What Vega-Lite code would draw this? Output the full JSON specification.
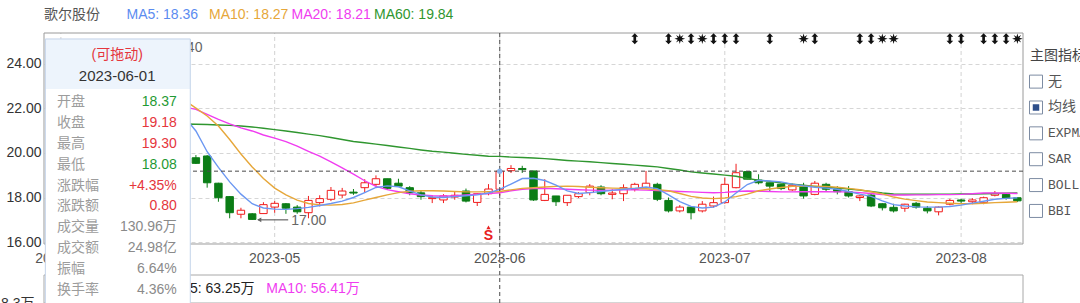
{
  "$schema": "https://vega.github.io/schema/vega-lite/v6.json",
  "padding": 0,
  "background": "white",
  "config": {"view": {"stroke": null}},
  "spacing": 2,
  "datasets": {
    "k": [
      {"d":"2023-03-31","o":22.0,"h":22.5,"l":21.8,"c":22.3,"ma5":21.8,"ma10":21.0,"ma20":20.6,"ma60":20.4},
      {"d":"2023-04-03","o":22.3,"h":23.1,"l":22.2,"c":22.9,"ma5":22.1,"ma10":21.2,"ma20":20.8,"ma60":20.5},
      {"d":"2023-04-04","o":22.9,"h":23.5,"l":22.7,"c":23.3,"ma5":22.4,"ma10":21.5,"ma20":21.0,"ma60":20.6},
      {"d":"2023-04-06","o":23.3,"h":23.6,"l":22.8,"c":23.0,"ma5":22.6,"ma10":21.8,"ma20":21.2,"ma60":20.7},
      {"d":"2023-04-07","o":23.0,"h":23.7,"l":22.9,"c":23.5,"ma5":22.8,"ma10":22.1,"ma20":21.4,"ma60":20.8},
      {"d":"2023-04-10","o":23.5,"h":24.1,"l":23.3,"c":23.8,"ma5":23.1,"ma10":22.4,"ma20":21.6,"ma60":20.9},
      {"d":"2023-04-11","o":23.8,"h":24.0,"l":23.2,"c":23.4,"ma5":23.3,"ma10":22.6,"ma20":21.8,"ma60":21.0},
      {"d":"2023-04-12","o":23.4,"h":24.4,"l":23.3,"c":24.0,"ma5":23.5,"ma10":22.8,"ma20":21.95,"ma60":21.1},
      {"d":"2023-04-13","o":24.0,"h":24.1,"l":22.9,"c":23.1,"ma5":23.6,"ma10":22.9,"ma20":22.05,"ma60":21.17},
      {"d":"2023-04-14","o":23.1,"h":23.2,"l":22.2,"c":22.4,"ma5":23.4,"ma10":22.9,"ma20":22.12,"ma60":21.22},
      {"d":"2023-04-17","o":22.4,"h":22.5,"l":21.4,"c":21.6,"ma5":23.0,"ma10":22.8,"ma20":22.15,"ma60":21.26},
      {"d":"2023-04-18","o":21.6,"h":21.7,"l":20.6,"c":20.8,"ma5":22.4,"ma10":22.6,"ma20":22.12,"ma60":21.28},
      {"d":"2023-04-19","o":20.8,"h":20.9,"l":19.8,"c":19.95,"ma5":21.6,"ma10":22.35,"ma20":22.05,"ma60":21.29},
      {"d":"2023-04-20","o":19.78,"h":19.9,"l":19.5,"c":19.53,"ma5":20.98,"ma10":22.0,"ma20":21.95,"ma60":21.28},
      {"d":"2023-04-21","o":19.86,"h":19.9,"l":18.44,"c":18.66,"ma5":20.05,"ma10":21.65,"ma20":21.72,"ma60":21.27},
      {"d":"2023-04-24","o":18.64,"h":18.66,"l":17.81,"c":17.99,"ma5":19.35,"ma10":21.2,"ma20":21.5,"ma60":21.25},
      {"d":"2023-04-25","o":18.04,"h":18.06,"l":17.07,"c":17.32,"ma5":18.7,"ma10":20.6,"ma20":21.3,"ma60":21.23},
      {"d":"2023-04-26","o":17.25,"h":17.54,"l":17.07,"c":17.43,"ma5":18.15,"ma10":19.95,"ma20":21.12,"ma60":21.2},
      {"d":"2023-04-27","o":17.27,"h":17.3,"l":17.0,"c":17.02,"ma5":17.72,"ma10":19.37,"ma20":20.98,"ma60":21.16},
      {"d":"2023-04-28","o":17.28,"h":17.79,"l":17.28,"c":17.68,"ma5":17.53,"ma10":18.85,"ma20":20.8,"ma60":21.1},
      {"d":"2023-05-04","o":17.57,"h":17.84,"l":17.32,"c":17.74,"ma5":17.48,"ma10":18.42,"ma20":20.66,"ma60":21.04},
      {"d":"2023-05-05","o":17.72,"h":17.75,"l":17.27,"c":17.52,"ma5":17.47,"ma10":18.12,"ma20":20.5,"ma60":20.98},
      {"d":"2023-05-08","o":17.57,"h":17.66,"l":17.27,"c":17.36,"ma5":17.5,"ma10":17.88,"ma20":20.3,"ma60":20.91},
      {"d":"2023-05-09","o":17.32,"h":18.07,"l":17.07,"c":17.87,"ma5":17.56,"ma10":17.73,"ma20":20.07,"ma60":20.84},
      {"d":"2023-05-10","o":17.77,"h":18.1,"l":17.6,"c":17.95,"ma5":17.64,"ma10":17.67,"ma20":19.85,"ma60":20.77},
      {"d":"2023-05-11","o":17.92,"h":18.47,"l":17.84,"c":18.32,"ma5":17.73,"ma10":17.66,"ma20":19.6,"ma60":20.69},
      {"d":"2023-05-12","o":18.11,"h":18.43,"l":17.98,"c":18.29,"ma5":17.84,"ma10":17.69,"ma20":19.33,"ma60":20.6},
      {"d":"2023-05-15","o":18.24,"h":18.38,"l":18.12,"c":18.2,"ma5":18.0,"ma10":17.76,"ma20":19.05,"ma60":20.51},
      {"d":"2023-05-16","o":18.44,"h":18.82,"l":18.2,"c":18.66,"ma5":18.22,"ma10":17.88,"ma20":18.75,"ma60":20.45},
      {"d":"2023-05-17","o":18.59,"h":18.99,"l":18.51,"c":18.84,"ma5":18.45,"ma10":18.0,"ma20":18.5,"ma60":20.39},
      {"d":"2023-05-18","o":18.84,"h":18.84,"l":18.34,"c":18.41,"ma5":18.52,"ma10":18.12,"ma20":18.35,"ma60":20.33},
      {"d":"2023-05-19","o":18.64,"h":18.84,"l":18.48,"c":18.51,"ma5":18.48,"ma10":18.22,"ma20":18.26,"ma60":20.26},
      {"d":"2023-05-22","o":18.44,"h":18.51,"l":18.1,"c":18.21,"ma5":18.3,"ma10":18.28,"ma20":18.17,"ma60":20.2},
      {"d":"2023-05-23","o":18.21,"h":18.3,"l":17.9,"c":18.04,"ma5":18.12,"ma10":18.3,"ma20":18.11,"ma60":20.13},
      {"d":"2023-05-24","o":17.95,"h":18.1,"l":17.75,"c":17.99,"ma5":18.02,"ma10":18.3,"ma20":18.08,"ma60":20.07},
      {"d":"2023-05-25","o":17.89,"h":18.15,"l":17.75,"c":18.07,"ma5":18.0,"ma10":18.29,"ma20":18.07,"ma60":20.03},
      {"d":"2023-05-26","o":18.02,"h":18.27,"l":17.9,"c":18.1,"ma5":18.04,"ma10":18.27,"ma20":18.08,"ma60":19.98},
      {"d":"2023-05-29","o":18.29,"h":18.4,"l":17.78,"c":17.84,"ma5":18.08,"ma10":18.25,"ma20":18.12,"ma60":19.93},
      {"d":"2023-05-30","o":17.78,"h":18.2,"l":17.62,"c":18.17,"ma5":18.12,"ma10":18.25,"ma20":18.15,"ma60":19.89},
      {"d":"2023-05-31","o":18.17,"h":18.6,"l":18.1,"c":18.38,"ma5":18.2,"ma10":18.26,"ma20":18.18,"ma60":19.85},
      {"d":"2023-06-01","o":18.37,"h":19.3,"l":18.08,"c":19.18,"ma5":18.36,"ma10":18.27,"ma20":18.21,"ma60":19.84},
      {"d":"2023-06-02","o":19.2,"h":19.45,"l":19.1,"c":19.3,"ma5":18.6,"ma10":18.34,"ma20":18.3,"ma60":19.81},
      {"d":"2023-06-05","o":19.3,"h":19.42,"l":19.1,"c":19.25,"ma5":18.85,"ma10":18.41,"ma20":18.37,"ma60":19.79},
      {"d":"2023-06-06","o":19.19,"h":19.19,"l":17.85,"c":17.89,"ma5":18.86,"ma10":18.44,"ma20":18.4,"ma60":19.77},
      {"d":"2023-06-07","o":17.87,"h":18.82,"l":17.84,"c":18.14,"ma5":18.76,"ma10":18.47,"ma20":18.41,"ma60":19.74},
      {"d":"2023-06-08","o":18.07,"h":18.07,"l":17.62,"c":17.81,"ma5":18.55,"ma10":18.5,"ma20":18.39,"ma60":19.7},
      {"d":"2023-06-09","o":17.77,"h":18.1,"l":17.62,"c":18.1,"ma5":18.3,"ma10":18.51,"ma20":18.37,"ma60":19.66},
      {"d":"2023-06-12","o":18.04,"h":18.24,"l":17.98,"c":18.17,"ma5":18.18,"ma10":18.49,"ma20":18.35,"ma60":19.63},
      {"d":"2023-06-13","o":18.22,"h":18.6,"l":18.1,"c":18.51,"ma5":18.22,"ma10":18.46,"ma20":18.33,"ma60":19.6},
      {"d":"2023-06-14","o":18.47,"h":18.55,"l":18.1,"c":18.17,"ma5":18.27,"ma10":18.44,"ma20":18.32,"ma60":19.56},
      {"d":"2023-06-15","o":18.14,"h":18.37,"l":17.92,"c":18.2,"ma5":18.32,"ma10":18.42,"ma20":18.33,"ma60":19.52},
      {"d":"2023-06-16","o":18.17,"h":18.59,"l":17.84,"c":18.44,"ma5":18.37,"ma10":18.41,"ma20":18.34,"ma60":19.49},
      {"d":"2023-06-19","o":18.37,"h":18.66,"l":18.27,"c":18.59,"ma5":18.41,"ma10":18.41,"ma20":18.34,"ma60":19.45},
      {"d":"2023-06-20","o":18.44,"h":19.19,"l":18.41,"c":18.64,"ma5":18.47,"ma10":18.39,"ma20":18.33,"ma60":19.41},
      {"d":"2023-06-21","o":18.59,"h":18.66,"l":17.84,"c":17.92,"ma5":18.4,"ma10":18.35,"ma20":18.31,"ma60":19.37},
      {"d":"2023-06-26","o":17.87,"h":18.0,"l":17.33,"c":17.4,"ma5":18.12,"ma10":18.3,"ma20":18.29,"ma60":19.3},
      {"d":"2023-06-27","o":17.4,"h":17.66,"l":17.33,"c":17.57,"ma5":17.82,"ma10":18.18,"ma20":18.27,"ma60":19.23},
      {"d":"2023-06-28","o":17.57,"h":17.57,"l":17.02,"c":17.32,"ma5":17.6,"ma10":18.05,"ma20":18.25,"ma60":19.15},
      {"d":"2023-06-29","o":17.4,"h":17.84,"l":17.33,"c":17.7,"ma5":17.53,"ma10":17.98,"ma20":18.23,"ma60":19.1},
      {"d":"2023-06-30","o":17.62,"h":18.04,"l":17.55,"c":17.77,"ma5":17.57,"ma10":17.95,"ma20":18.21,"ma60":19.05},
      {"d":"2023-07-03","o":17.77,"h":18.89,"l":17.72,"c":18.59,"ma5":17.8,"ma10":17.98,"ma20":18.23,"ma60":19.0},
      {"d":"2023-07-04","o":18.44,"h":19.51,"l":18.41,"c":19.11,"ma5":18.2,"ma10":18.04,"ma20":18.27,"ma60":18.95},
      {"d":"2023-07-05","o":19.16,"h":19.16,"l":18.82,"c":18.82,"ma5":18.58,"ma10":18.15,"ma20":18.29,"ma60":18.85},
      {"d":"2023-07-06","o":18.78,"h":19.04,"l":18.59,"c":18.66,"ma5":18.77,"ma10":18.3,"ma20":18.28,"ma60":18.78},
      {"d":"2023-07-07","o":18.66,"h":18.66,"l":18.29,"c":18.51,"ma5":18.74,"ma10":18.38,"ma20":18.27,"ma60":18.72},
      {"d":"2023-07-10","o":18.59,"h":18.6,"l":18.33,"c":18.4,"ma5":18.7,"ma10":18.45,"ma20":18.25,"ma60":18.65},
      {"d":"2023-07-11","o":18.34,"h":18.62,"l":18.3,"c":18.55,"ma5":18.6,"ma10":18.5,"ma20":18.25,"ma60":18.6},
      {"d":"2023-07-12","o":18.51,"h":18.66,"l":17.95,"c":18.07,"ma5":18.52,"ma10":18.51,"ma20":18.26,"ma60":18.55},
      {"d":"2023-07-13","o":18.14,"h":18.74,"l":18.1,"c":18.64,"ma5":18.46,"ma10":18.51,"ma20":18.26,"ma60":18.5},
      {"d":"2023-07-14","o":18.59,"h":18.66,"l":18.29,"c":18.37,"ma5":18.42,"ma10":18.5,"ma20":18.26,"ma60":18.46},
      {"d":"2023-07-17","o":18.39,"h":18.51,"l":18.14,"c":18.26,"ma5":18.37,"ma10":18.46,"ma20":18.25,"ma60":18.43},
      {"d":"2023-07-18","o":18.26,"h":18.51,"l":18.0,"c":18.07,"ma5":18.27,"ma10":18.41,"ma20":18.25,"ma60":18.38},
      {"d":"2023-07-19","o":18.0,"h":18.1,"l":17.84,"c":18.07,"ma5":18.15,"ma10":18.35,"ma20":18.22,"ma60":18.33},
      {"d":"2023-07-20","o":18.11,"h":18.2,"l":17.57,"c":17.62,"ma5":18.05,"ma10":18.26,"ma20":18.18,"ma60":18.27},
      {"d":"2023-07-21","o":17.72,"h":17.74,"l":17.42,"c":17.54,"ma5":17.85,"ma10":18.16,"ma20":18.13,"ma60":18.2},
      {"d":"2023-07-24","o":17.56,"h":17.72,"l":17.33,"c":17.4,"ma5":17.68,"ma10":18.02,"ma20":18.11,"ma60":18.16},
      {"d":"2023-07-25","o":17.52,"h":17.72,"l":17.36,"c":17.7,"ma5":17.62,"ma10":17.93,"ma20":18.11,"ma60":18.15},
      {"d":"2023-07-26","o":17.74,"h":17.8,"l":17.5,"c":17.57,"ma5":17.58,"ma10":17.86,"ma20":18.12,"ma60":18.15},
      {"d":"2023-07-27","o":17.52,"h":17.62,"l":17.29,"c":17.4,"ma5":17.57,"ma10":17.8,"ma20":18.12,"ma60":18.15},
      {"d":"2023-07-28","o":17.36,"h":17.6,"l":17.2,"c":17.57,"ma5":17.57,"ma10":17.77,"ma20":18.13,"ma60":18.15},
      {"d":"2023-07-31","o":17.7,"h":17.94,"l":17.65,"c":17.87,"ma5":17.6,"ma10":17.74,"ma20":18.13,"ma60":18.15},
      {"d":"2023-08-01","o":17.89,"h":17.94,"l":17.7,"c":17.84,"ma5":17.66,"ma10":17.72,"ma20":18.14,"ma60":18.16},
      {"d":"2023-08-02","o":17.81,"h":17.97,"l":17.7,"c":17.89,"ma5":17.75,"ma10":17.72,"ma20":18.17,"ma60":18.16},
      {"d":"2023-08-03","o":17.77,"h":18.04,"l":17.7,"c":17.99,"ma5":17.83,"ma10":17.74,"ma20":18.2,"ma60":18.17},
      {"d":"2023-08-04","o":18.1,"h":18.29,"l":18.05,"c":18.17,"ma5":17.92,"ma10":17.77,"ma20":18.2,"ma60":18.18},
      {"d":"2023-08-07","o":18.14,"h":18.2,"l":17.9,"c":17.96,"ma5":17.96,"ma10":17.79,"ma20":18.19,"ma60":18.19},
      {"d":"2023-08-08","o":17.99,"h":18.0,"l":17.8,"c":17.85,"ma5":17.99,"ma10":17.81,"ma20":18.18,"ma60":18.2}
    ],
    "months": [{"d":"2023-04-03"},{"d":"2023-05-04"},{"d":"2023-06-01"},{"d":"2023-07-03"},{"d":"2023-08-01"}],
    "sig": [
      {"d":"2023-06-19","k":"arrow"},{"d":"2023-06-26","k":"arrow"},{"d":"2023-06-27","k":"star"},
      {"d":"2023-06-28","k":"arrow"},{"d":"2023-06-29","k":"star"},{"d":"2023-06-30","k":"arrow"},
      {"d":"2023-07-03","k":"arrow"},{"d":"2023-07-04","k":"arrow"},{"d":"2023-07-07","k":"arrow"},
      {"d":"2023-07-12","k":"star"},{"d":"2023-07-13","k":"arrow"},{"d":"2023-07-19","k":"arrow"},
      {"d":"2023-07-20","k":"arrow"},{"d":"2023-07-21","k":"star"},{"d":"2023-07-24","k":"star"},
      {"d":"2023-07-31","k":"arrow"},{"d":"2023-08-01","k":"arrow"},{"d":"2023-08-03","k":"arrow"},
      {"d":"2023-08-04","k":"arrow"},{"d":"2023-08-07","k":"arrow"},{"d":"2023-08-08","k":"star"}
    ],
    "tip": [
      {"k":"开盘","v":"18.37","c":"down"},
      {"k":"收盘","v":"19.18","c":"up"},
      {"k":"最高","v":"19.30","c":"up"},
      {"k":"最低","v":"18.08","c":"down"},
      {"k":"涨跌幅","v":"+4.35%","c":"up"},
      {"k":"涨跌额","v":"0.80","c":"up"},
      {"k":"成交量","v":"130.96万","c":"flat"},
      {"k":"成交额","v":"24.98亿","c":"flat"},
      {"k":"振幅","v":"6.64%","c":"flat"},
      {"k":"换手率","v":"4.36%","c":"flat"}
    ],
    "head": [
      {"t":"歌尔股份","k":"name"},
      {"t":"MA5: 18.36","k":"MA5"},
      {"t":"MA10: 18.27","k":"MA10"},
      {"t":"MA20: 18.21","k":"MA20"},
      {"t":"MA60: 19.84","k":"MA60"}
    ],
    "opts": [
      {"t":"无","on":false},{"t":"均线","on":true},{"t":"EXPMA","on":false},
      {"t":"SAR","on":false},{"t":"BOLL","on":false},{"t":"BBI","on":false}
    ]
  },
  "vconcat": [
    {
      "width": 330,
      "height": 30,
      "data": {"name": "head"},
      "mark": {"type": "text", "align": "left", "baseline": "middle", "fontSize": 14, "font": "Liberation Sans, Noto Sans CJK SC"},
      "encoding": {
        "x": {"field": "t", "type": "nominal", "sort": null, "scale": {"type": "point", "padding": 0}, "axis": null},
        "text": {"field": "t"},
        "color": {"field": "k", "type": "nominal", "legend": null,
          "scale": {"domain": ["name","MA5","MA10","MA20","MA60"], "range": ["#555555","#5b8cf0","#e6a73a","#f03cf0","#2f962f"]}}
      }
    },
    {
      "spacing": 3,
      "hconcat": [
        {
          "width": 979,
          "height": 271,
          "resolve": {"scale": {"y": "independent"}, "axis": {"y": "independent"}},
          "layer": [
            {
              "layer": [
                {
                  "data": {"name": "months"},
                  "mark": {"type": "rule", "stroke": "#d2d2d2", "strokeDash": [4, 3]},
                  "encoding": {
                    "x": {"field": "d", "type": "ordinal", "title": null,
                      "scale": {"paddingInner": 0, "paddingOuter": 0},
                      "axis": {"orient": "bottom", "offset": -60, "values": ["2023-04-03","2023-05-04","2023-06-01","2023-07-03","2023-08-01"],
                        "labelExpr": "slice(datum.value, 0, 7)", "labelAngle": 0, "labelPadding": 7, "labelFontSize": 14,
                        "labelColor": "#555555", "labelFont": "Liberation Sans", "ticks": false, "domain": false, "grid": false, "title": null}},
                    "y": {"datum": 15.918, "type": "quantitative", "scale": {"domain": [13.231, 25.367], "zero": false, "nice": false},
                      "axis": {"orient": "left", "values": [13.275, 16, 18, 20, 22, 24], "title": null,
                        "labelExpr": "datum.value < 15 ? '8.3万' : format(datum.value, '.2f')",
                        "grid": true, "gridDash": [4, 3],
                        "gridColor": {"condition": {"test": "datum.value < 15", "value": "transparent"}, "value": "#d6d6d6"},
                        "ticks": false, "domain": false,
                        "labelPadding": {"condition": {"test": "datum.value < 15", "value": 10}, "value": 3},
                        "labelFontSize": 14, "labelColor": "#333333", "labelFont": "Liberation Sans, Noto Sans CJK SC",
                        "minExtent": 43, "maxExtent": 43}},
                    "y2": {"datum": 25.367}
                  }
                },
                {
                  "data": {"values": [{}]},
                  "mark": {"type": "rect", "fill": "transparent", "stroke": "#9a9a9a", "strokeWidth": 1},
                  "encoding": {
                    "y": {"datum": 25.367, "type": "quantitative", "scale": {"domain": [13.231, 25.367], "zero": false, "nice": false}},
                    "y2": {"datum": 15.918}
                  }
                },
                {
                  "data": {"values": [{}]},
                  "mark": {"type": "rect", "fill": "transparent", "stroke": "#a8a8a8", "strokeWidth": 1},
                  "encoding": {
                    "y": {"datum": 14.529, "type": "quantitative", "scale": {"domain": [13.231, 25.367], "zero": false, "nice": false}},
                    "y2": {"datum": 13.275}
                  }
                },
                {
                  "data": {"name": "k"},
                  "mark": {"type": "rule", "strokeWidth": 1},
                  "encoding": {
                    "x": {"field": "d", "type": "ordinal"},
                    "y": {"field": "l", "type": "quantitative", "scale": {"domain": [13.231, 25.367], "zero": false, "nice": false}},
                    "y2": {"field": "h"},
                    "stroke": {"condition": {"test": "datum.c >= datum.o", "value": "#f01c1c"}, "value": "#0b7d16"}
                  }
                },
                {
                  "data": {"name": "k"},
                  "mark": {"type": "bar", "width": {"band": 0.66}, "strokeWidth": 1},
                  "encoding": {
                    "x": {"field": "d", "type": "ordinal"},
                    "y": {"field": "o", "type": "quantitative", "scale": {"domain": [13.231, 25.367], "zero": false, "nice": false}},
                    "y2": {"field": "c"},
                    "fill": {"condition": {"test": "datum.c >= datum.o", "value": "#ffffff"}, "value": "#0b7d16"},
                    "stroke": {"condition": {"test": "datum.c >= datum.o", "value": "#f01c1c"}, "value": "#0b7d16"}
                  }
                },
                {
                  "data": {"name": "k"},
                  "mark": {"type": "line", "stroke": "#2f962f", "strokeWidth": 1.4},
                  "encoding": {
                    "x": {"field": "d", "type": "ordinal"},
                    "y": {"field": "ma60", "type": "quantitative", "scale": {"domain": [13.231, 25.367], "zero": false, "nice": false}}
                  }
                },
                {
                  "data": {"name": "k"},
                  "mark": {"type": "line", "stroke": "#f03cf0", "strokeWidth": 1.4},
                  "encoding": {
                    "x": {"field": "d", "type": "ordinal"},
                    "y": {"field": "ma20", "type": "quantitative", "scale": {"domain": [13.231, 25.367], "zero": false, "nice": false}}
                  }
                },
                {
                  "data": {"name": "k"},
                  "mark": {"type": "line", "stroke": "#e6a73a", "strokeWidth": 1.4},
                  "encoding": {
                    "x": {"field": "d", "type": "ordinal"},
                    "y": {"field": "ma10", "type": "quantitative", "scale": {"domain": [13.231, 25.367], "zero": false, "nice": false}}
                  }
                },
                {
                  "data": {"name": "k"},
                  "mark": {"type": "line", "stroke": "#6b97f2", "strokeWidth": 1.4},
                  "encoding": {
                    "x": {"field": "d", "type": "ordinal"},
                    "y": {"field": "ma5", "type": "quantitative", "scale": {"domain": [13.231, 25.367], "zero": false, "nice": false}}
                  }
                },
                {
                  "data": {"values": [{}]},
                  "mark": {"type": "rule", "stroke": "#4a4a4a", "strokeDash": [4, 3], "strokeWidth": 1},
                  "encoding": {"x": {"datum": "2023-06-01", "type": "ordinal"}}
                },
                {
                  "data": {"values": [{}]},
                  "mark": {"type": "rule", "stroke": "#4a4a4a", "strokeDash": [4, 3], "strokeWidth": 1},
                  "encoding": {"y": {"datum": 19.18, "type": "quantitative", "scale": {"domain": [13.231, 25.367], "zero": false, "nice": false}}}
                },
                {
                  "data": {"values": [{}]},
                  "mark": {"type": "point", "filled": true, "fill": "#86b4ec", "opacity": 1, "size": 28},
                  "encoding": {
                    "x": {"datum": "2023-06-01", "type": "ordinal"},
                    "y": {"datum": 19.18, "type": "quantitative", "scale": {"domain": [13.231, 25.367], "zero": false, "nice": false}}
                  }
                },
                {
                  "data": {"name": "sig"},
                  "mark": {"type": "point", "filled": true, "fill": "#111111", "opacity": 1, "size": 125},
                  "encoding": {
                    "x": {"field": "d", "type": "ordinal"},
                    "y": {"datum": 25.11, "type": "quantitative", "scale": {"domain": [13.231, 25.367], "zero": false, "nice": false}},
                    "shape": {"field": "k", "type": "nominal", "legend": null,
                      "scale": {"domain": ["arrow","star"], "range": [
                        "M0,-1L0.6,-0.35L0.24,-0.35L0.24,0.35L0.6,0.35L0,1L-0.6,0.35L-0.24,0.35L-0.24,-0.35L-0.6,-0.35Z",
                        "M0,-0.95L0.16,-0.36L0.67,-0.67L0.36,-0.16L0.95,0L0.36,0.16L0.67,0.67L0.16,0.36L0,0.95L-0.16,0.36L-0.67,0.67L-0.36,0.16L-0.95,0L-0.36,-0.16L-0.67,-0.67L-0.16,-0.36Z"]}}
                  }
                },
                {
                  "data": {"values": [{"d": "2023-05-31"}]},
                  "mark": {"type": "text", "text": "S", "fontSize": 14, "fontWeight": "bold", "fill": "#e82020", "font": "Liberation Sans", "baseline": "middle"},
                  "encoding": {
                    "x": {"field": "d", "type": "ordinal"},
                    "y": {"datum": 16.28, "type": "quantitative", "scale": {"domain": [13.231, 25.367], "zero": false, "nice": false}}
                  }
                },
                {
                  "data": {"values": [{"d": "2023-05-31"}]},
                  "mark": {"type": "point", "shape": "triangle-up", "filled": true, "fill": "#e82020", "opacity": 1, "size": 18},
                  "encoding": {
                    "x": {"field": "d", "type": "ordinal"},
                    "y": {"datum": 16.66, "type": "quantitative", "scale": {"domain": [13.231, 25.367], "zero": false, "nice": false}}
                  }
                },
                {
                  "data": {"values": [{"d": "2023-04-27", "v": 17.0}, {"d": "2023-04-12", "v": 24.4}]},
                  "mark": {"type": "rule", "stroke": "#666666", "strokeWidth": 1.2, "xOffset": 6, "x2Offset": 36},
                  "encoding": {
                    "x": {"field": "d", "type": "ordinal"},
                    "x2": {"field": "d"},
                    "y": {"field": "v", "type": "quantitative", "scale": {"domain": [13.231, 25.367], "zero": false, "nice": false}}
                  }
                },
                {
                  "data": {"values": [{"d": "2023-04-27", "v": 17.0}, {"d": "2023-04-12", "v": 24.4}]},
                  "mark": {"type": "point", "shape": "triangle-left", "filled": true, "fill": "#666666", "opacity": 1, "size": 24, "xOffset": 7},
                  "encoding": {
                    "x": {"field": "d", "type": "ordinal"},
                    "y": {"field": "v", "type": "quantitative", "scale": {"domain": [13.231, 25.367], "zero": false, "nice": false}}
                  }
                },
                {
                  "data": {"values": [{"d": "2023-04-27", "v": 17.0}]},
                  "mark": {"type": "text", "align": "left", "baseline": "middle", "dx": 39, "dy": 1.5, "fontSize": 14, "fill": "#666666", "font": "Liberation Sans"},
                  "encoding": {
                    "x": {"field": "d", "type": "ordinal"},
                    "y": {"field": "v", "type": "quantitative", "scale": {"domain": [13.231, 25.367], "zero": false, "nice": false}},
                    "text": {"field": "v", "type": "quantitative", "format": ".2f"}
                  }
                },
                {
                  "data": {"values": [{"d": "2023-04-12", "v": 24.4}]},
                  "mark": {"type": "text", "align": "left", "baseline": "middle", "dx": 39, "dy": -7, "fontSize": 14, "fill": "#666666", "font": "Liberation Sans"},
                  "encoding": {
                    "x": {"field": "d", "type": "ordinal"},
                    "y": {"field": "v", "type": "quantitative", "scale": {"domain": [13.231, 25.367], "zero": false, "nice": false}},
                    "text": {"field": "v", "type": "quantitative", "format": ".2f"}
                  }
                },
                {
                  "data": {"values": [{"t": "MA5: 63.25万"}]},
                  "mark": {"type": "text", "align": "left", "baseline": "middle", "fontSize": 14, "fill": "#222222", "font": "Liberation Sans, Noto Sans CJK SC"},
                  "encoding": {
                    "x": {"datum": "2023-04-18", "type": "ordinal", "bandPosition": 0.1},
                    "y": {"datum": 13.884, "type": "quantitative", "scale": {"domain": [13.231, 25.367], "zero": false, "nice": false}},
                    "text": {"field": "t"}
                  }
                },
                {
                  "data": {"values": [{"t": "MA10: 56.41万"}]},
                  "mark": {"type": "text", "align": "left", "baseline": "middle", "fontSize": 14, "fill": "#f03cf0", "font": "Liberation Sans, Noto Sans CJK SC"},
                  "encoding": {
                    "x": {"datum": "2023-04-28", "type": "ordinal", "bandPosition": 0.76},
                    "y": {"datum": 13.884, "type": "quantitative", "scale": {"domain": [13.231, 25.367], "zero": false, "nice": false}},
                    "text": {"field": "t"}
                  }
                },
                {
                  "data": {"values": [{}]},
                  "mark": {"type": "rect", "fill": "#ffffff"},
                  "encoding": {
                    "x": {"datum": "2023-03-31", "type": "ordinal", "bandPosition": 0.12},
                    "x2": {"datum": "2023-04-19", "bandPosition": 1},
                    "y": {"datum": 25.1, "type": "quantitative", "scale": {"domain": [13.231, 25.367], "zero": false, "nice": false}},
                    "y2": {"datum": 12.9}
                  }
                },
                {
                  "data": {"values": [{}]},
                  "mark": {"type": "rect", "fill": "#edf4fc"},
                  "encoding": {
                    "x": {"datum": "2023-03-31", "type": "ordinal", "bandPosition": 0.12},
                    "x2": {"datum": "2023-04-19", "bandPosition": 1},
                    "y": {"datum": 25.1, "type": "quantitative", "scale": {"domain": [13.231, 25.367], "zero": false, "nice": false}},
                    "y2": {"datum": 22.859}
                  }
                },
                {
                  "data": {"values": [{}]},
                  "mark": {"type": "rect", "fill": "transparent", "stroke": "#c4d4ea", "strokeWidth": 1},
                  "encoding": {
                    "x": {"datum": "2023-03-31", "type": "ordinal", "bandPosition": 0.12},
                    "x2": {"datum": "2023-04-19", "bandPosition": 1},
                    "y": {"datum": 25.1, "type": "quantitative", "scale": {"domain": [13.231, 25.367], "zero": false, "nice": false}},
                    "y2": {"datum": 12.9}
                  }
                }
              ]
            },
            {
              "layer": [
                {
                  "data": {"values": [{"k": "(可拖动)"}]},
                  "mark": {"type": "text", "align": "center", "baseline": "middle", "dy": -5, "fontSize": 14, "fill": "#e5363c", "font": "Liberation Sans, Noto Sans CJK SC"},
                  "encoding": {
                    "x": {"datum": "2023-04-11", "type": "ordinal"},
                    "y": {"field": "k", "type": "ordinal", "axis": null,
                      "scale": {"type": "point", "domain": ["(可拖动)","2023-06-01","开盘","收盘","最高","最低","涨跌幅","涨跌额","成交量","成交额","振幅","换手率"], "padding": 1.218, "align": 0.659}},
                    "text": {"field": "k"}
                  }
                },
                {
                  "data": {"values": [{"k": "2023-06-01"}]},
                  "mark": {"type": "text", "align": "center", "baseline": "middle", "dy": -5, "fontSize": 15, "fill": "#333333", "font": "Liberation Sans"},
                  "encoding": {
                    "x": {"datum": "2023-04-11", "type": "ordinal"},
                    "y": {"field": "k", "type": "ordinal", "axis": null},
                    "text": {"field": "k"}
                  }
                },
                {
                  "data": {"name": "tip"},
                  "mark": {"type": "text", "align": "left", "baseline": "middle", "fontSize": 14, "fill": "#9c9c9c", "font": "Noto Sans CJK SC"},
                  "encoding": {
                    "x": {"datum": "2023-04-03", "type": "ordinal", "bandPosition": 0.15},
                    "y": {"field": "k", "type": "ordinal", "axis": null},
                    "text": {"field": "k"}
                  }
                },
                {
                  "data": {"name": "tip"},
                  "mark": {"type": "text", "align": "right", "baseline": "middle", "fontSize": 14, "font": "Liberation Sans, Noto Sans CJK SC"},
                  "encoding": {
                    "x": {"datum": "2023-04-18", "type": "ordinal", "bandPosition": 0.8},
                    "y": {"field": "k", "type": "ordinal", "axis": null},
                    "text": {"field": "v"},
                    "fill": {"field": "c", "type": "nominal", "legend": null, "scale": {"domain": ["up","down","flat"], "range": ["#e5363c","#1f9a34","#8a8a8a"]}}
                  }
                }
              ]
            }
          ]
        },
        {
          "width": 12,
          "height": 200.7,
          "layer": [
            {
              "data": {"values": [{"t": "主图指标"}]},
              "mark": {"type": "text", "align": "left", "baseline": "middle", "dx": -6, "fontSize": 14, "fill": "#444444", "font": "Noto Sans CJK SC"},
              "encoding": {
                "y": {"field": "t", "type": "ordinal", "axis": null,
                  "scale": {"type": "point", "domain": ["主图指标","无","均线","EXPMA","SAR","BOLL","BBI"], "padding": 0.88}},
                "text": {"field": "t"}
              }
            },
            {
              "data": {"name": "opts"},
              "mark": {"type": "point", "shape": "square", "filled": false, "stroke": "#7d8ca3", "strokeWidth": 1, "opacity": 1, "size": 169},
              "encoding": {"y": {"field": "t", "type": "ordinal", "axis": null}}
            },
            {
              "data": {"name": "opts"},
              "transform": [{"filter": "datum.on"}],
              "mark": {"type": "point", "shape": "square", "filled": true, "fill": "#2d4e8a", "opacity": 1, "size": 42},
              "encoding": {"y": {"field": "t", "type": "ordinal", "axis": null}}
            },
            {
              "data": {"name": "opts"},
              "mark": {"type": "text", "align": "left", "baseline": "middle", "dx": 12, "fill": "#555555", "font": "Liberation Mono, Noto Sans CJK SC"},
              "encoding": {
                "y": {"field": "t", "type": "ordinal", "axis": null},
                "text": {"field": "t"},
                "size": {"condition": {"test": "length(datum.t) <= 2", "value": 14}, "value": 13}
              }
            }
          ]
        }
      ]
    }
  ]
}
